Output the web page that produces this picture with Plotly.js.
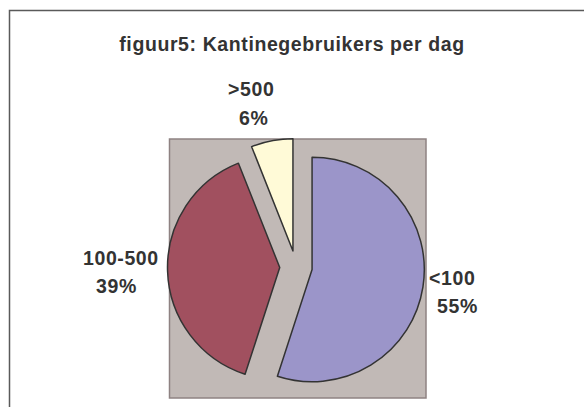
<!DOCTYPE html>
<html>
<head>
<meta charset="utf-8">
<script src="https://cdn.plot.ly/plotly-3.0.1.min.js"></script>
<style>html,body{margin:0;padding:0;background:#fff;}#chart{width:584px;height:407px;}
.annotation-text{letter-spacing:0.6px;}
.gtitle{letter-spacing:0.6px;}</style>
</head>
<body>
<div id="chart"></div>
<script>
const titleText = "figuur5: Kantinegebruikers per dag";
const categories = ["<100", "100-500", ">500"];
const shares = [55, 39, 6];
const sliceColors = ["#9B95C9", "#A1505F", "#FFFAD7"];

const W = 584, H = 407;
const px = x => x / W;
const py = y => 1 - y / H;

// label anchor positions (pixels) for each category: [nameX, nameY, pctX, pctY]
const labelPos = [[452, 278, 457, 306], [121, 258, 116, 286], [251, 89, 253, 118]];

const font = {family: "Liberation Sans, Arial, sans-serif", size: 19.5, color: "#333333"};
const annotations = [];
categories.forEach((c, i) => {
  const p = labelPos[i];
  annotations.push({xref: "paper", yref: "paper", x: px(p[0]), y: py(p[1]), text: "<b>" + c.replace("<", "&lt;").replace(">", "&gt;") + "</b>", showarrow: false, xanchor: "center", yanchor: "middle", font: font});
  annotations.push({xref: "paper", yref: "paper", x: px(p[2]), y: py(p[3]), text: "<b>" + shares[i] + "%</b>", showarrow: false, xanchor: "center", yanchor: "middle", font: font});
});

const trace = {
  type: "pie",
  labels: categories,
  values: shares,
  sort: false,
  direction: "clockwise",
  rotation: 0,
  pull: [0.145, 0.145, 0.145],
  textinfo: "none",
  hoverinfo: "label+percent",
  marker: {colors: sliceColors, line: {color: "#333333", width: 1.5}},
  domain: {x: [px(167.5), px(424.5)], y: [py(395.5), py(138.5)]},
  showlegend: false
};

const layout = {
  width: W, height: H,
  margin: {l: 0, r: 0, t: 0, b: 0},
  paper_bgcolor: "#ffffff",
  title: {text: "<b>" + titleText + "</b>", x: px(292), xanchor: "center", y: py(44), yanchor: "middle", yref: "container", font: {family: font.family, size: 19.5, color: "#333333"}},
  showlegend: false,
  shapes: [
    {type: "rect", xref: "paper", yref: "paper", x0: px(9.5), x1: px(640), y0: py(10.5), y1: py(460), line: {color: "#5a5a5a", width: 1.5}, fillcolor: "rgba(0,0,0,0)", layer: "below"},
    {type: "rect", xref: "paper", yref: "paper", x0: px(169.5), x1: px(426), y0: py(139), y1: py(398), line: {color: "#8E8282", width: 1.5}, fillcolor: "#C1B9B6", layer: "below"}
  ],
  annotations: annotations
};

Plotly.newPlot("chart", [trace], layout, {displayModeBar: false, staticPlot: true});
</script>
</body>
</html>
